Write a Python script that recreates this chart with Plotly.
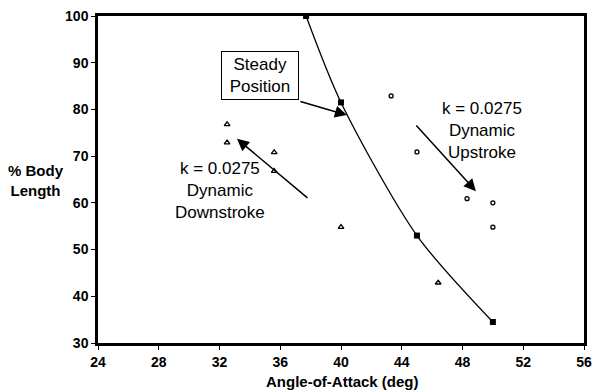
import plotly.graph_objects as go

# Steady position curve
steady_aoa = [37.7, 40.0, 45.0, 50.0]
steady_len = [100.0, 81.5, 53.0, 34.5]

# Dynamic downstroke (k = 0.0275)
down_aoa = [32.5, 32.5, 35.6, 35.6, 40.0, 46.4]
down_len = [76.8, 72.9, 70.8, 66.8, 54.8, 42.9]

# Dynamic upstroke (k = 0.0275)
up_aoa = [43.3, 45.0, 48.3, 50.0, 50.0]
up_len = [82.9, 70.9, 60.9, 60.0, 54.8]

x_ticks = [24, 28, 32, 36, 40, 44, 48, 52, 56]
y_ticks = [30, 40, 50, 60, 70, 80, 90, 100]

FONT = "Arial, 'Liberation Sans', sans-serif"

fig = go.Figure()

fig.add_trace(go.Scatter(
    x=steady_aoa, y=steady_len, mode="lines+markers",
    line=dict(color="black", width=1.3, shape="spline", smoothing=0.8),
    marker=dict(symbol="square", size=6, color="black"),
    cliponaxis=False, showlegend=False))

fig.add_trace(go.Scatter(
    x=down_aoa, y=down_len, mode="markers",
    marker=dict(symbol="triangle-up-open", size=5, color="black",
                line=dict(width=1.3)),
    showlegend=False))

fig.add_trace(go.Scatter(
    x=up_aoa, y=up_len, mode="markers",
    marker=dict(symbol="circle-open", size=4, color="black",
                line=dict(width=1.3)),
    showlegend=False))

axis_common = dict(
    showgrid=False, zeroline=False, showline=True, linecolor="black",
    linewidth=2.5, mirror=True, ticks="outside", ticklen=4, tickwidth=1,
    tickcolor="black", automargin=False,
    tickfont=dict(family=FONT, size=14, color="black", weight="bold"),
)

fig.update_layout(
    width=597, height=390,
    margin=dict(l=98, r=13, t=16, b=47),
    paper_bgcolor="white", plot_bgcolor="white",
    font=dict(family=FONT, color="black"),
    xaxis=dict(range=[24, 56], tickvals=x_ticks,
               ticktext=[str(v) for v in x_ticks], **axis_common),
    yaxis=dict(range=[30, 100], tickvals=y_ticks,
               ticktext=[str(v) for v in y_ticks], **axis_common),
)

# Axis titles
fig.add_annotation(text="<b>Angle-of-Attack (deg)</b>", xref="paper", yref="paper",
                   x=0.504, y=-0.118, xanchor="center", yanchor="middle",
                   showarrow=False, font=dict(family=FONT, size=15, color="black"))
fig.add_annotation(text="<b>% Body<br>Length</b>", xref="paper", yref="paper",
                   x=-0.128, y=0.497, xanchor="center", yanchor="middle",
                   showarrow=False, font=dict(family=FONT, size=15, color="black"))

# Labels
text_font = dict(family=FONT, size=17, color="black")
fig.add_annotation(text="k = 0.0275<br>Dynamic<br>Downstroke", x=32.03, y=62.6,
                   xref="x", yref="y", showarrow=False, font=text_font,
                   align="center")
fig.add_annotation(text="k = 0.0275<br>Dynamic<br>Upstroke", x=49.28, y=75.5,
                   xref="x", yref="y", showarrow=False, font=text_font,
                   align="center")
fig.add_annotation(text="Steady<br>Position", x=34.66, y=87.2,
                   xref="x", yref="y", showarrow=False,
                   font=dict(family=FONT, size=17, color="black"),
                   align="center", bordercolor="black", borderwidth=1,
                   borderpad=3, width=70, height=41, bgcolor="white")

# Arrows
arrow_style = dict(xref="x", yref="y", axref="x", ayref="y", showarrow=True,
                   arrowhead=2, arrowsize=1.6, arrowwidth=1.5,
                   arrowcolor="black", text="")
fig.add_annotation(x=40.39, y=78.8, ax=37.23, ay=81.8, **arrow_style)
fig.add_annotation(x=33.15, y=73.7, ax=37.89, ay=60.8, **arrow_style)
fig.add_annotation(x=48.88, y=62.5, ax=44.87, ay=76.9, **arrow_style)

fig.write_html("out.html")
